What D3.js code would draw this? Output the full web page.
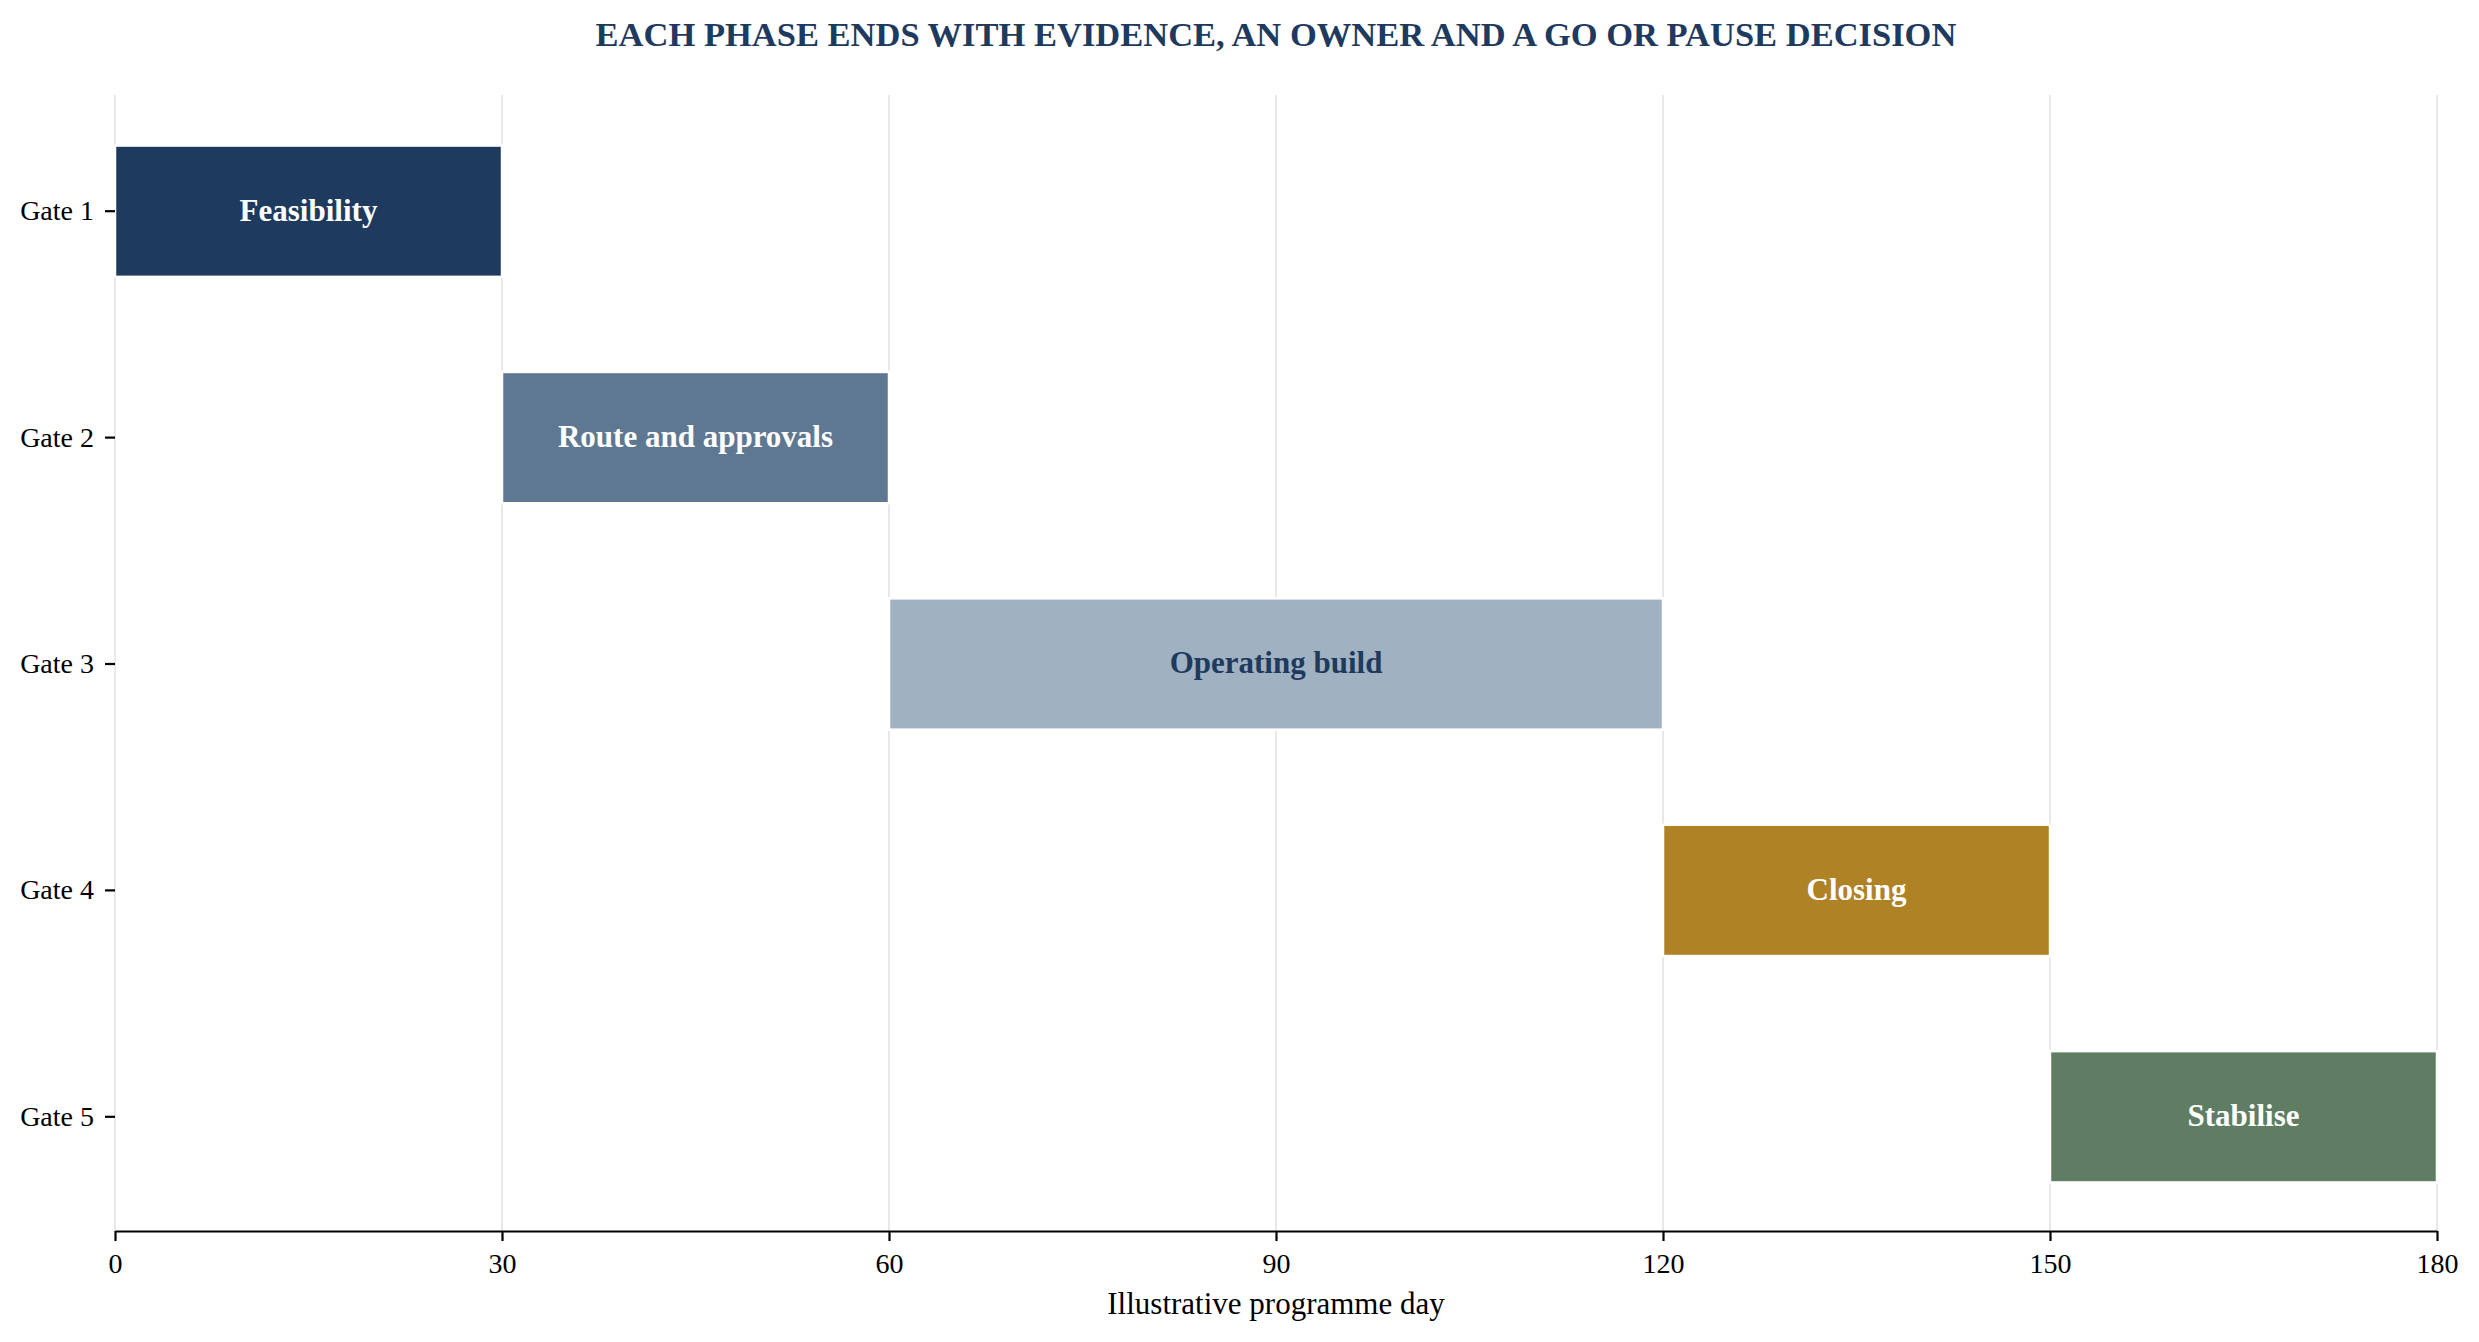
<!DOCTYPE html>
<html>
<head>
<meta charset="utf-8">
<script src="https://cdn.jsdelivr.net/npm/d3@7"></script>
<style>
    body { margin: 0; background: #fff; }
    svg { display: block; }
    text { font-family: "Liberation Serif", "Times New Roman", serif; }
</style>
</head>
<body>
<svg id="gate-chart" width="2479" height="1342"></svg>
<script>
var gates = ['Gate 1', 'Gate 2', 'Gate 3', 'Gate 4', 'Gate 5'];
var phases = ['Feasibility', 'Route and approvals', 'Operating build', 'Closing', 'Stabilise'];
var startDays = [0, 30, 60, 120, 150];
var endDays = [30, 60, 120, 150, 180];
var xTicks = [0, 30, 60, 90, 120, 150, 180];
var titleText = 'EACH PHASE ENDS WITH EVIDENCE, AN OWNER AND A GO OR PAUSE DECISION';
var xLabelText = 'Illustrative programme day';

var palette = ['#1f3a5f', '#5f7891', '#a0b2c1', '#b08226', '#5f7d62'];
var labelColors = ['#ffffff', '#ffffff', '#1f3a5f', '#ffffff', '#ffffff'];

var svg = d3.select('#gate-chart'),
    plotLeft = 115,
    plotRight = 2437,
    plotTop = 98,
    plotBottom = 1230,
    axisY = 1231,
    navy = '#1f3a5f';

var rows = gates.map(function (g, i) {
    return {gate: g, phase: phases[i], start: startDays[i], end: endDays[i], i: i};
});

var xScale = d3.scaleLinear()
    .domain([0, 180])
    .range([plotLeft, plotRight]);

var yScale = d3.scaleBand()
    .domain(gates)
    .range([plotTop, plotBottom])
    .paddingInner(0.42)
    .paddingOuter(0.21);

// vertical grid
svg.append('g').attr('class', 'grid')
    .selectAll('line').data(xTicks).enter().append('line')
    .attr('x1', function (d) { return xScale(d); })
    .attr('x2', function (d) { return xScale(d); })
    .attr('y1', plotTop - 3)
    .attr('y2', axisY)
    .style('stroke', '#e8e8e8')
    .style('stroke-width', 2);

// phase bars
var bars = svg.append('g').attr('class', 'bars')
    .selectAll('g').data(rows).enter().append('g');

bars.append('rect')
    .attr('x', function (d) { return xScale(d.start); })
    .attr('y', function (d) { return yScale(d.gate); })
    .attr('width', function (d) { return xScale(d.end) - xScale(d.start); })
    .attr('height', yScale.bandwidth())
    .style('fill', function (d) { return palette[d.i]; })
    .style('stroke', '#ffffff')
    .style('stroke-width', 2.5);

bars.append('text')
    .attr('x', function (d) { return (xScale(d.start) + xScale(d.end)) / 2; })
    .attr('y', function (d) { return yScale(d.gate) + yScale.bandwidth() / 2; })
    .attr('dy', '0.3em')
    .attr('text-anchor', 'middle')
    .style('font-size', '31px')
    .style('font-weight', 'bold')
    .style('fill', function (d) { return labelColors[d.i]; })
    .text(function (d) { return d.phase; });

// axes
var xAxis = d3.axisBottom(xScale)
    .tickValues(xTicks)
    .tickSize(10)
    .tickSizeOuter(0)
    .tickPadding(12);

var gx = svg.append('g')
    .attr('transform', 'translate(0,' + axisY + ')')
    .call(xAxis);
gx.select('.domain').style('stroke', '#000').style('stroke-width', 2.2);
gx.selectAll('.tick line').style('stroke', '#000').style('stroke-width', 2.2);
gx.selectAll('.tick text')
    .style('font-size', '28px')
    .style('font-family', '"Liberation Serif", serif')
    .style('fill', '#000');

var yAxis = d3.axisLeft(yScale)
    .tickSize(10)
    .tickSizeOuter(0)
    .tickPadding(11);

var gy = svg.append('g')
    .attr('transform', 'translate(' + plotLeft + ',0)')
    .call(yAxis);
gy.select('.domain').remove();
gy.selectAll('.tick line').style('stroke', '#000').style('stroke-width', 2.2);
gy.selectAll('.tick text')
    .style('font-size', '28px')
    .style('font-family', '"Liberation Serif", serif')
    .style('fill', '#000');

// title and axis label
svg.append('text')
    .attr('x', (plotLeft + plotRight) / 2)
    .attr('y', 46)
    .attr('text-anchor', 'middle')
    .style('font-size', '34.5px')
    .style('font-weight', 'bold')
    .style('fill', navy)
    .text(titleText);

svg.append('text')
    .attr('x', (plotLeft + plotRight) / 2)
    .attr('y', 1314)
    .attr('text-anchor', 'middle')
    .style('font-size', '31px')
    .style('fill', '#000')
    .text(xLabelText);
</script>
</body>
</html>
